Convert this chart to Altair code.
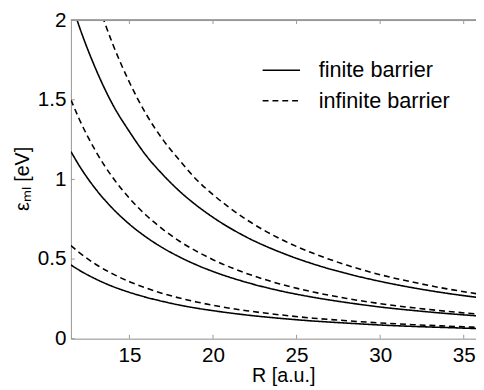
import altair as alt
import pandas as pd

# Radius grid [a.u.]
R = [11.5, 12, 13, 14, 15, 16, 17, 18, 19, 20, 22, 24, 26, 28, 30, 32, 34, 36]

# Level energies [eV]
finite_1 = [2.12, 1.96, 1.69, 1.47, 1.30, 1.15, 1.03, 0.926, 0.838, 0.762, 0.638, 0.544, 0.469, 0.409, 0.360, 0.319, 0.285, 0.257]
infinite_1 = [None, None, 2.14, 1.85, 1.61, 1.41, 1.25, 1.12, 1.00, 0.905, 0.748, 0.628, 0.536, 0.462, 0.402, 0.354, 0.313, 0.279]
finite_2 = [1.175, 1.086, 0.937, 0.817, 0.719, 0.638, 0.570, 0.513, 0.464, 0.422, 0.354, 0.301, 0.260, 0.227, 0.199, 0.177, 0.158, 0.142]
infinite_2 = [1.50, 1.378, 1.174, 1.012, 0.882, 0.775, 0.687, 0.612, 0.550, 0.496, 0.410, 0.344, 0.293, 0.253, 0.220, 0.194, 0.172, 0.153]
finite_3 = [0.463, 0.430, 0.374, 0.328, 0.291, 0.260, 0.234, 0.211, 0.192, 0.176, 0.149, 0.128, 0.111, 0.098, 0.086, 0.077, 0.070, 0.063]
infinite_3 = [0.585, 0.541, 0.466, 0.407, 0.358, 0.318, 0.284, 0.255, 0.231, 0.210, 0.176, 0.150, 0.129, 0.113, 0.099, 0.088, 0.079, 0.071]

x_ticks = [15, 20, 25, 30, 35]
y_ticks = [0, 0.5, 1, 1.5, 2]
types = ["finite barrier", "infinite barrier"]

series = [
    ("1", types[0], finite_1), ("1", types[1], infinite_1),
    ("2", types[0], finite_2), ("2", types[1], infinite_2),
    ("3", types[0], finite_3), ("3", types[1], infinite_3),
]
rows = []
for level, kind, vals in series:
    for r, e in zip(R, vals):
        if e is not None:
            rows.append({"R": r, "E": e, "level": level, "type": kind, "key": level + kind})
df = pd.DataFrame(rows)

W, H = 412, 324
FONT = "Liberation Sans"
xscale = alt.Scale(domain=[11.5, 35.735], nice=False, zero=False)
yscale = alt.Scale(domain=[0, 2], nice=False)

lines = alt.Chart(df).mark_line(clip=True, color="black", strokeWidth=1.6, interpolate="monotone").encode(
    x=alt.X("R:Q", scale=xscale, title="R [a.u.]",
            axis=alt.Axis(values=x_ticks, tickSize=0, grid=False, domainColor="#999999",
                          labelFontSize=21, labelFont=FONT, labelColor="black", labelPadding=6,
                          titleFontSize=20, titleFont=FONT, titleFontWeight="normal", titleColor="black",
                          titleX=216, titleY=38, titleBaseline="middle")),
    y=alt.Y("E:Q", scale=yscale, title="εₘₗ [eV]",
            axis=alt.Axis(values=y_ticks, format="~g", tickSize=0, grid=False, domainColor="#999999",
                          labelFontSize=21, labelFont=FONT, labelColor="black", labelPadding=5,
                          titleFontSize=20, titleFont=FONT, titleFontWeight="normal", titleColor="black",
                          titleX=-49, titleY=161, titleBaseline="middle")),
    strokeDash=alt.StrokeDash("type:N", scale=alt.Scale(domain=types, range=[[1, 0], [6, 4]]),
                              legend=alt.Legend(title=None, orient="none", legendX=194, legendY=31,
                                                symbolType="stroke", symbolSize=1444, symbolStrokeWidth=1.6,
                                                symbolStrokeColor="black", labelFontSize=22, labelFont=FONT,
                                                labelColor="black", labelOffset=18, rowPadding=0, padding=0)),
    detail="key:N",
)

xt = pd.DataFrame({"R": x_ticks})
yt = pd.DataFrame({"E": y_ticks})
bottom_ticks = alt.Chart(xt).mark_rule(color="#999999").encode(x=alt.X("R:Q", scale=xscale), y=alt.value(H), y2=alt.value(H - 4))
top_ticks = alt.Chart(xt).mark_rule(color="#999999").encode(x=alt.X("R:Q", scale=xscale), y=alt.value(0), y2=alt.value(4))
left_ticks = alt.Chart(yt).mark_rule(color="#999999").encode(y=alt.Y("E:Q", scale=yscale), x=alt.value(0), x2=alt.value(4))
top_border = alt.Chart(xt).mark_rule(color="#999999").encode(x=alt.value(0), x2=alt.value(W), y=alt.value(0))

chart = alt.layer(lines, bottom_ticks, top_ticks, left_ticks, top_border).properties(
    width=W, height=H,
    autosize=alt.AutoSizeParams(type="none"),
    padding={"left": 64, "top": 9, "right": 0, "bottom": 60},
).configure_view(stroke=None).configure(background="white")

chart.save("out.html", embed_options={"renderer": "svg", "actions": False})
